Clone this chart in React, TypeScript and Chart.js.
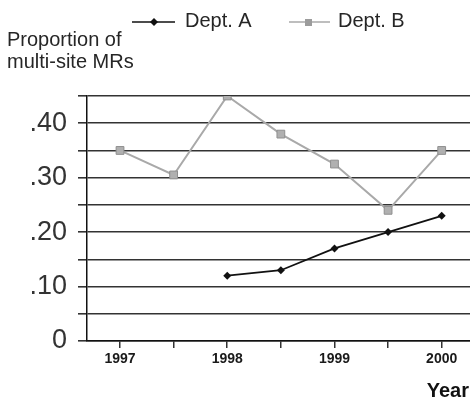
import React, { useEffect, useRef } from "react";
import { Chart, registerables } from "chart.js";

Chart.register(...registerables);

// ---- data ----
const years = [1997, 1997.5, 1998, 1998.5, 1999, 1999.5, 2000];
const yearLabels = [1997, 1998, 1999, 2000];
const deptA: (number | null)[] = [null, null, 0.12, 0.13, 0.17, 0.2, 0.23];
const deptB: (number | null)[] = [0.35, 0.305, 0.45, 0.38, 0.325, 0.24, 0.35];
const yTickValues = [0, 0.05, 0.1, 0.15, 0.2, 0.25, 0.3, 0.35, 0.4, 0.45];
const yTickLabels: Record<string, string> = { "0": "0", "0.1": ".10", "0.2": ".20", "0.3": ".30", "0.4": ".40" };
const seriesNames = ["Dept. A", "Dept. B"];
const yTitleLines = ["Proportion of", "multi-site MRs"];
const xTitle = "Year";

const FONT = "'Liberation Sans', Arial, sans-serif";
const COLOR_A = "#111111";
const COLOR_B = "#a9a9a9";
const COLOR_B_PT = "#9c9c9c";
const GRID = "#333333";
const TEXT = "#262626";

const textPlugin = {
  id: "customText",
  afterDraw(chart: any) {
    const ctx = chart.ctx as CanvasRenderingContext2D;
    ctx.save();
    // legend
    ctx.font = `20px ${FONT}`;
    ctx.textBaseline = "alphabetic";
    ctx.fillStyle = TEXT;
    // Dept A
    ctx.strokeStyle = COLOR_A;
    ctx.lineWidth = 1.5;
    ctx.beginPath();
    ctx.moveTo(132, 22);
    ctx.lineTo(175, 22);
    ctx.stroke();
    ctx.fillStyle = COLOR_A;
    ctx.beginPath();
    ctx.moveTo(154, 18);
    ctx.lineTo(158, 22);
    ctx.lineTo(154, 26);
    ctx.lineTo(150, 22);
    ctx.closePath();
    ctx.fill();
    ctx.fillStyle = TEXT;
    ctx.fillText(seriesNames[0], 185, 27);
    // Dept B
    ctx.strokeStyle = COLOR_B;
    ctx.lineWidth = 1.5;
    ctx.beginPath();
    ctx.moveTo(289, 22);
    ctx.lineTo(330, 22);
    ctx.stroke();
    ctx.fillStyle = COLOR_B_PT;
    ctx.fillRect(305, 19, 7, 7);
    ctx.fillStyle = TEXT;
    ctx.fillText(seriesNames[1], 338, 27);
    // y title
    ctx.fillText(yTitleLines[0], 7, 46);
    ctx.fillText(yTitleLines[1], 7, 68);
    // x title
    ctx.font = `bold 20px ${FONT}`;
    ctx.textAlign = "right";
    ctx.fillStyle = "#111";
    ctx.fillText(xTitle, 469, 397);
    ctx.restore();
  },
};

export default function App() {
  const ref = useRef<HTMLCanvasElement>(null);
  useEffect(() => {
    if (!ref.current) return;
    const chart = new Chart(ref.current, {
      type: "line",
      data: {
        datasets: [
          {
            label: seriesNames[0],
            data: years.map((x, i) => ({ x, y: deptA[i] })) as any,
            borderColor: COLOR_A,
            backgroundColor: COLOR_A,
            borderWidth: 1.8,
            pointStyle: "rectRot",
            pointRadius: 4,
            pointBackgroundColor: COLOR_A,
            pointBorderColor: COLOR_A,
            pointBorderWidth: 0,
          },
          {
            label: seriesNames[1],
            data: years.map((x, i) => ({ x, y: deptB[i] })) as any,
            borderColor: COLOR_B,
            backgroundColor: COLOR_B_PT,
            borderWidth: 2,
            pointStyle: "rect",
            pointRadius: 5.5,
            pointBackgroundColor: "#b0b0b0",
            pointBorderColor: "#8f8f8f",
            pointBorderWidth: 1,
          },
        ],
      },
      options: {
        animation: false,
        responsive: true,
        maintainAspectRatio: false,
        layout: { autoPadding: false, padding: { top: 96, left: 0, right: 0, bottom: 0 } },
        plugins: { legend: { display: false }, tooltip: { enabled: false } },
        scales: {
          x: {
            type: "linear",
            min: 1996.692,
            max: 2000.264,
            afterBuildTicks: (scale: any) => {
              scale.ticks = years.map((v) => ({ value: v }));
            },
            afterFit: (scale: any) => {
              scale.height = 61;
              scale.paddingLeft = 0;
              scale.paddingRight = 0;
            },
            ticks: {
              autoSkip: false,
              maxRotation: 0,
              padding: 3,
              color: "#1a1a1a",
              font: { family: FONT, size: 14, weight: "bold" },
              callback: (v: any) => (yearLabels.includes(Number(v)) ? String(v) : ""),
            },
            grid: {
              display: true,
              drawOnChartArea: false,
              drawTicks: true,
              tickLength: 7,
              color: GRID,
              lineWidth: 1.5,
            },
            border: { display: true, color: "#111", width: 1.5 },
          },
          y: {
            type: "linear",
            min: 0,
            max: 0.45,
            afterBuildTicks: (scale: any) => {
              scale.ticks = yTickValues.map((v) => ({ value: v }));
            },
            afterFit: (scale: any) => {
              scale.width = 87;
              scale.paddingTop = 0;
              scale.paddingBottom = 0;
            },
            ticks: {
              autoSkip: false,
              padding: 11,
              color: "#333",
              font: { family: FONT, size: 27 },
              callback: (v: any) => yTickLabels[String(Math.round(Number(v) * 100) / 100)] ?? "",
            },
            grid: {
              color: GRID,
              lineWidth: 1.6,
              drawTicks: true,
              tickLength: 9,
            },
            border: { display: true, color: "#111", width: 1.5 },
          },
        },
      },
      plugins: [textPlugin],
    });
    return () => chart.destroy();
  }, []);
  return (
    <div style={{ position: "absolute", left: 0, top: 0, width: 470, height: 402, background: "#fff" }}>
      <canvas ref={ref} />
    </div>
  );
}
